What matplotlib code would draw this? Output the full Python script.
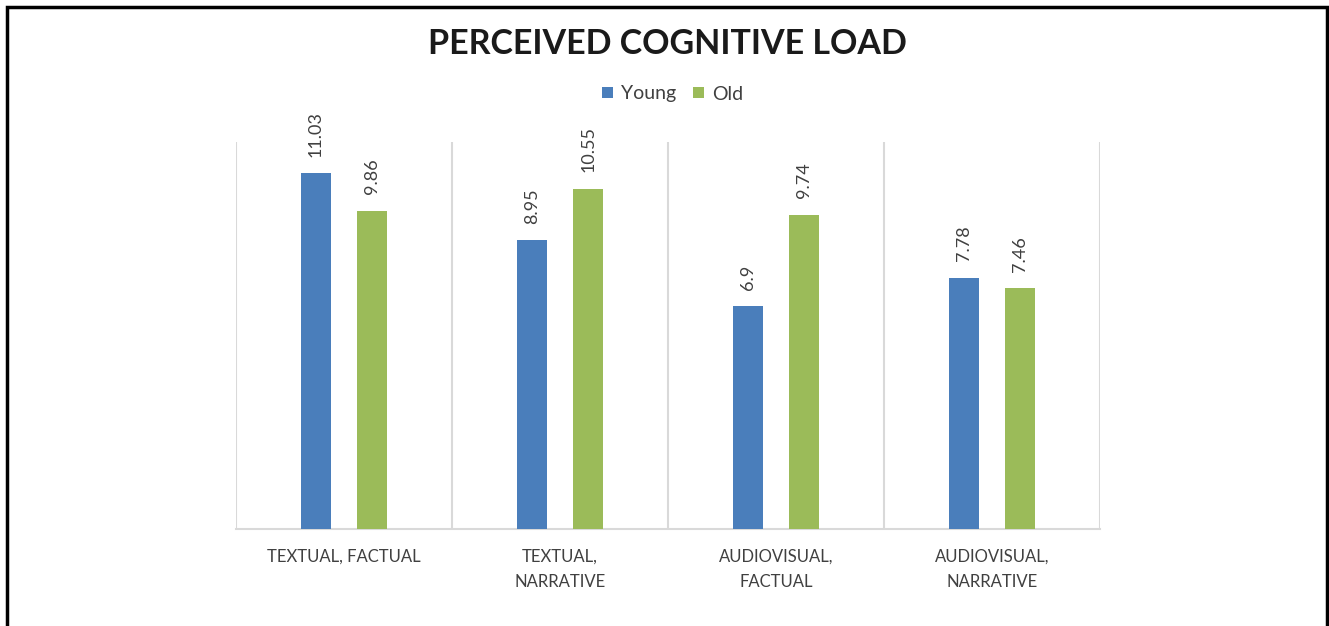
import numpy as np
import matplotlib
matplotlib.use('Agg')
from matplotlib import pyplot as plt
from matplotlib.patches import Rectangle

# Data
categories = ['TEXTUAL, FACTUAL', 'TEXTUAL,\nNARRATIVE', 'AUDIOVISUAL,\nFACTUAL', 'AUDIOVISUAL,\nNARRATIVE']
young = [11.03, 8.95, 6.9, 7.78]
old = [9.86, 10.55, 9.74, 7.46]
young_labels = ['11.03', '8.95', '6.9', '7.78']
old_labels = ['9.86', '10.55', '9.74', '7.46']

plt.rcParams['font.family'] = ['Lato', 'DejaVu Sans']

fig = plt.figure(figsize=(13.29, 6.26), dpi=100)
W, H = 1329, 626
ax = fig.add_axes([236 / W, 1 - 529 / H, 864 / W, 387 / H])

x = np.arange(len(categories))
width = 0.139
offset = 0.13
colors = ['#4a7ebb', '#9bbb59']

b1 = ax.bar(x - offset, young, width, color=colors[0], label='Young', zorder=3)
b2 = ax.bar(x + offset, old, width, color=colors[1], label='Old', zorder=3)

# data labels, rotated like the original
for bars, labels in [(b1, young_labels), (b2, old_labels)]:
    for bar, lab in zip(bars, labels):
        ax.annotate(lab, (bar.get_x() + bar.get_width() / 2, bar.get_height()),
                    xytext=(0, 12), textcoords='offset points', rotation=90,
                    ha='center', va='bottom', fontsize=13, color='#404040')

ax.set_xlim(-0.5, len(categories) - 0.5)
ax.set_ylim(0, 12)
ax.set_yticks([])
ax.set_xticks(x)
ax.set_xticklabels(categories, fontsize=12, color='#404040', linespacing=1.7)
ax.tick_params(axis='x', length=0, pad=14)

# vertical separators between categories
for xb in np.arange(-0.5, len(categories), 1):
    ax.axvline(xb, color='#d9d9d9', lw=1.5, zorder=1)

for s in ['top', 'right', 'left']:
    ax.spines[s].set_visible(False)
ax.spines['bottom'].set_color('#d9d9d9')
ax.spines['bottom'].set_linewidth(1.5)

fig.text(0.502, 1 - 44 / H, 'PERCEIVED COGNITIVE LOAD', ha='center', va='center',
         fontsize=24.5, fontweight='bold', color='#1a1a1a')

leg = fig.legend(handles=[b1, b2], labels=['Young', 'Old'], loc='center',
                 bbox_to_anchor=(0.506, 1 - 94 / H), ncol=2, frameon=False,
                 fontsize=14, handlelength=0.55, handleheight=0.55,
                 handletextpad=0.4, columnspacing=0.9)
for t in leg.get_texts():
    t.set_color('#404040')

# outer frame
fig.patches.append(Rectangle((7 / W, -0.05), (1327 - 7) / W, 1 - 7 / H + 0.05,
                             transform=fig.transFigure, fill=False,
                             edgecolor='black', linewidth=2.5))

fig.savefig('out.png', dpi=100)
